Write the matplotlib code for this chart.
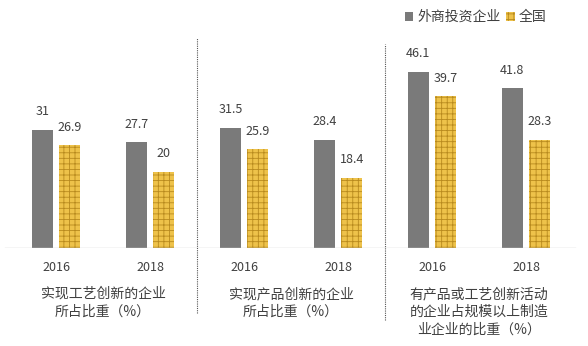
import numpy as np
import matplotlib
matplotlib.use("Agg")
import matplotlib.pyplot as plt
from matplotlib.patches import Patch

plt.rcParams['font.family'] = ['Noto Sans CJK SC', 'DejaVu Sans']
plt.rcParams['hatch.linewidth'] = 0.6

# data
years = ["2016", "2018", "2016", "2018", "2016", "2018"]
panel_labels = [
    "实现工艺创新的企业\n所占比重（%）",
    "实现产品创新的企业\n所占比重（%）",
    "有产品或工艺创新活动\n的企业占规模以上制造\n业企业的比重（%）",
]
series_names = ["外商投资企业", "全国"]
foreign = [31, 27.7, 31.5, 28.4, 46.1, 41.8]
national = [26.9, 20, 25.9, 18.4, 39.7, 28.3]

gray = "#7a7a7a"
gold = "#EEC24A"
brick = "#B88A1E"
text_c = "#404040"

fig = plt.figure(figsize=(5.88, 3.46), dpi=100)
ax = fig.add_axes([0, 98 / 346, 1, 191 / 346])

x = np.arange(len(years))
w = 0.23
off = 0.145
b1 = ax.bar(x - off, foreign, w, color=gray, linewidth=0)
b2 = ax.bar(x + off, national, w, color=gold, edgecolor=brick,
            hatch="+++", linewidth=0)

for bars in (b1, b2):
    for r in bars:
        ax.annotate(f"{r.get_height():g}",
                    (r.get_x() + r.get_width() / 2, r.get_height()),
                    xytext=(0, 13), textcoords="offset points",
                    ha="center", va="center", fontsize=9, color=text_c)

ax.set_xlim(-56 / 94, (588 - 56) / 94)
ax.set_ylim(0, 50)
ax.axis("off")

# baseline
ax.axhline(0, xmin=5 / 588, xmax=575 / 588, color="#d0d0d0", lw=1)

# dotted separators between panels
ax.axvline(1.5, ymin=-0.34, ymax=1.10, color="#555555", lw=0.8,
           ls=(0, (1, 1)), clip_on=False)
ax.axvline(3.5, ymin=-0.375, ymax=1.07, color="#555555", lw=0.8,
           ls=(0, (1, 1)), clip_on=False)

# year labels
for xi, yr in zip(x, years):
    ax.annotate(yr, (xi, 0), xytext=(0, -14), textcoords="offset points",
                ha="center", va="center", fontsize=9, color=text_c)

# panel labels
for i, lab in enumerate(panel_labels):
    ax.annotate(lab, (2 * i + 0.5, 0), xytext=(0, -28), textcoords="offset points",
                ha="center", va="top", fontsize=10, color=text_c,
                linespacing=1.35)

handles = [Patch(facecolor=gray, linewidth=0),
           Patch(facecolor=gold, edgecolor=brick, hatch="+++", linewidth=0)]
fig.legend(handles, series_names, loc="center left",
           bbox_to_anchor=(398 / 588, 1 - 17 / 346), ncol=2, frameon=False,
           fontsize=10, handlelength=0.6, handleheight=0.6,
           handletextpad=0.3, columnspacing=0.4, borderpad=0,
           labelcolor=text_c)

fig.savefig("out.png", dpi=100)
